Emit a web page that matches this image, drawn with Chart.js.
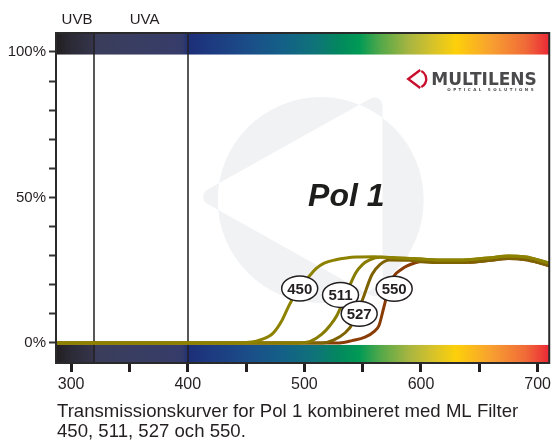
<!DOCTYPE html>
<html>
<head>
<meta charset="utf-8">
<script src="https://cdn.jsdelivr.net/npm/chart.js@4.4.1/dist/chart.umd.min.js"></script>
<style>
  html, body { margin: 0; padding: 0; background: #fff; }
  #wrap { width: 554px; height: 441px; }
</style>
</head>
<body>
<div id="wrap"><canvas id="chart"></canvas></div>
<script>
// transmission curves, wavelength (nm) vs transmission (%)
const nm450 = [287, 440, 455, 462, 473, 481, 487, 495, 504, 510, 517, 527, 536, 545, 560, 580, 600, 620, 640, 660, 675, 690, 700, 710];
const t450  = [0, 0, 0.3, 1, 3.3, 7.9, 13, 18.5, 22.8, 25.5, 27.4, 28.6, 29.2, 29.5, 29.6, 29.2, 28.8, 28.5, 28.6, 29.3, 29.9, 29.5, 28.6, 27.4];

const nm511 = [287, 495, 505, 515, 522, 528, 535, 544, 550, 556, 565, 580, 600, 620, 640, 660, 675, 690, 700, 710];
const t511  = [0, 0, 0.5, 3, 6, 9.5, 16, 24, 27, 28.5, 29.4, 29.2, 28.8, 28.5, 28.6, 29.3, 29.9, 29.5, 28.6, 27.4];

const nm527 = [287, 515, 525, 535, 542, 550, 558, 565, 573, 590, 600, 620, 640, 660, 675, 690, 700, 710];
const t527  = [0, 0, 1, 3.5, 7, 15, 23.5, 27, 28.5, 28.4, 27.9, 27.6, 27.7, 28.4, 29.0, 28.6, 27.7, 26.5];

const nm550 = [287, 530, 541, 552, 560, 564, 568, 574, 584, 595, 605, 620, 640, 660, 675, 690, 700, 710];
const t550  = [0, 0, 0.8, 2, 4, 6, 12, 21, 25.5, 27.5, 28.2, 27.6, 27.7, 28.4, 29.0, 28.6, 27.7, 26.5];

const filterNames = ['450', '511', '527', '550'];
const labelNm = [496, 531, 547, 577];
const labelT  = [18.7, 16.5, 10, 18.6];

const regionNames  = ['UVB', 'UVA'];
const regionLabelNm = [305, 363];
const regionBounds = [320, 400];

const lineColors = ['#8d8200', '#877b00', '#7e6200', '#8a3c07'];

// spectrum strip colours
const specNm = [287, 300, 318, 321, 395, 401, 420, 450, 480, 510, 530, 547, 565, 590, 610, 630, 660, 690, 710];
const specColors = ['#231f20', '#2b2a36', '#34344a', '#3a3d5a', '#363c6a', '#1c2f78', '#1d3a80', '#1b4c88', '#145f88',
  '#0e7478', '#03885e', '#009a55', '#52a84a', '#a8b540', '#d6c22a', '#fdd00a', '#f8a030', '#f06a38', '#ec2837'];

const FONT = '"Liberation Sans", Arial, sans-serif';

function series(nm, t) {
  return nm.map((v, i) => ({ x: v, y: t[i] }));
}

const decor = {
  id: 'decor',
  beforeDatasetsDraw(chart) {
    const { ctx, chartArea: a, scales: { x, y } } = chart;
    ctx.save();

    // watermark: circle xor triangle
    const cx = x.getPixelForValue(514), cy = y.getPixelForValue(49.1), r = 103;
    const p1 = [x.getPixelForValue(567), y.getPixelForValue(86.3)];
    const p2 = [x.getPixelForValue(406), y.getPixelForValue(50.2)];
    const p3 = [x.getPixelForValue(567), y.getPixelForValue(14.1)];
    ctx.beginPath();
    ctx.arc(cx, cy, r, 0, Math.PI * 2);
    ctx.moveTo((p1[0] + p2[0]) / 2, (p1[1] + p2[1]) / 2);
    ctx.arcTo(p2[0], p2[1], p3[0], p3[1], 8);
    ctx.arcTo(p3[0], p3[1], p1[0], p1[1], 8);
    ctx.arcTo(p1[0], p1[1], p2[0], p2[1], 8);
    ctx.closePath();
    ctx.fillStyle = '#f1f2f4';
    ctx.fill('evenodd');

    // spectrum strips
    const g = ctx.createLinearGradient(a.left, 0, a.right, 0);
    specNm.forEach((n, i) => {
      const f = Math.min(1, Math.max(0, (x.getPixelForValue(n) - a.left) / a.width));
      g.addColorStop(f, specColors[i]);
    });
    ctx.fillStyle = g;
    const topB = y.getPixelForValue(99.1);
    ctx.fillRect(a.left, a.top, a.width, topB - a.top);
    const botB = y.getPixelForValue(-0.7);
    ctx.fillRect(a.left, botB, a.width, a.bottom - botB);

    // UV boundaries
    ctx.strokeStyle = '#231f20';
    ctx.lineWidth = 1.5;
    regionBounds.forEach(b => {
      const px = Math.round(x.getPixelForValue(b));
      ctx.beginPath();
      ctx.moveTo(px, a.top);
      ctx.lineTo(px, a.bottom);
      ctx.stroke();
    });

    // Pol 1
    ctx.fillStyle = '#1d1d1b';
    ctx.font = 'italic bold 32px ' + FONT;
    ctx.textAlign = 'center';
    ctx.textBaseline = 'middle';
    ctx.fillText('Pol 1', x.getPixelForValue(536), y.getPixelForValue(50.2));

    // logo
    const lx = a.right - 132, ly = 79;
    ctx.strokeStyle = '#c8102e';
    ctx.lineWidth = 2.4;
    ctx.beginPath();
    ctx.arc(lx, ly, 9, -1.1, 1.1);
    ctx.stroke();
    ctx.beginPath();
    ctx.moveTo(lx + 3, ly - 9);
    ctx.lineTo(lx - 9, ly);
    ctx.lineTo(lx + 3, ly + 9);
    ctx.stroke();
    ctx.fillStyle = '#4a4a4c';
    ctx.font = 'bold 17px "DejaVu Sans", sans-serif';
    ctx.textAlign = 'left';
    ctx.textBaseline = 'alphabetic';
    ctx.fillText('MULTILENS', lx + 14, ly + 6);
    ctx.font = 'bold 4px "DejaVu Sans", sans-serif';
    ctx.letterSpacing = '2.5px';
    ctx.fillText('OPTICAL SOLUTIONS', lx + 30, ly + 12);
    ctx.letterSpacing = '0px';
    ctx.restore();
  },
  afterDatasetsDraw(chart) {
    const { ctx, scales: { x, y } } = chart;
    ctx.save();
    filterNames.forEach((name, i) => {
      const px = x.getPixelForValue(labelNm[i]), py = y.getPixelForValue(labelT[i]);
      ctx.beginPath();
      ctx.ellipse(px, py, 18, 12.5, 0, 0, Math.PI * 2);
      ctx.fillStyle = '#fff';
      ctx.fill();
      ctx.lineWidth = 1.5;
      ctx.strokeStyle = '#231f20';
      ctx.stroke();
      ctx.fillStyle = '#231f20';
      ctx.font = 'bold 15px ' + FONT;
      ctx.textAlign = 'center';
      ctx.textBaseline = 'middle';
      ctx.fillText(name, px, py + 1);
    });
    ctx.restore();
  },
  afterDraw(chart) {
    const { ctx, chartArea: a, scales: { x } } = chart;
    ctx.save();
    ctx.strokeStyle = '#2a2a2a';
    ctx.lineWidth = 2;
    ctx.strokeRect(a.left, a.top, a.width, a.height);

    ctx.fillStyle = '#231f20';
    ctx.font = '15px ' + FONT;
    ctx.textAlign = 'center';
    ctx.textBaseline = 'alphabetic';
    regionNames.forEach((n, i) => ctx.fillText(n, x.getPixelForValue(regionLabelNm[i]), 24));

    ctx.font = '18.6px ' + FONT;
    ctx.textAlign = 'left';
    ctx.fillText('Transmissionskurver for Pol 1 kombineret med ML Filter', 57, 417);
    ctx.fillText('450, 511, 527 och 550.', 57, 437);
    ctx.restore();
  }
};

new Chart(document.getElementById('chart'), {
  type: 'line',
  data: {
    datasets: [
      { label: '450', data: series(nm450, t450), borderColor: lineColors[0] },
      { label: '511', data: series(nm511, t511), borderColor: lineColors[1] },
      { label: '527', data: series(nm527, t527), borderColor: lineColors[2] },
      { label: '550', data: series(nm550, t550), borderColor: lineColors[3] }
    ]
  },
  options: {
    responsive: true,
    maintainAspectRatio: false,
    animation: false,
    layout: { padding: { top: 33, right: 3, bottom: 46, left: 0 } },
    elements: {
      line: { borderWidth: 3, cubicInterpolationMode: 'monotone', fill: false },
      point: { radius: 0 }
    },
    plugins: {
      legend: { display: false },
      tooltip: { enabled: false }
    },
    scales: {
      x: {
        type: 'linear',
        min: 287,
        max: 710,
        afterFit: s => { s.height = 32; },
        border: { display: false },
        grid: { drawOnChartArea: false, drawTicks: true, tickLength: 9, tickWidth: 3, tickColor: '#231f20' },
        ticks: {
          stepSize: 50,
          includeBounds: false,
          autoSkip: false,
          maxRotation: 0,
          padding: 3,
          color: '#231f20',
          font: { family: FONT, size: 16 },
          callback: v => (v % 100 === 0 ? String(v) : '')
        }
      },
      y: {
        min: -6.9,
        max: 106.5,
        afterFit: s => { s.width = 56; },
        border: { display: false },
        grid: { drawOnChartArea: false, drawTicks: true, tickLength: 7, tickWidth: 2, tickColor: '#333' },
        ticks: {
          stepSize: 10,
          includeBounds: false,
          autoSkip: false,
          padding: 3,
          color: '#231f20',
          font: { family: FONT, size: 15 },
          callback: v => (v % 50 === 0 ? v + '%' : '')
        }
      }
    }
  },
  plugins: [decor]
});
</script>
</body>
</html>
